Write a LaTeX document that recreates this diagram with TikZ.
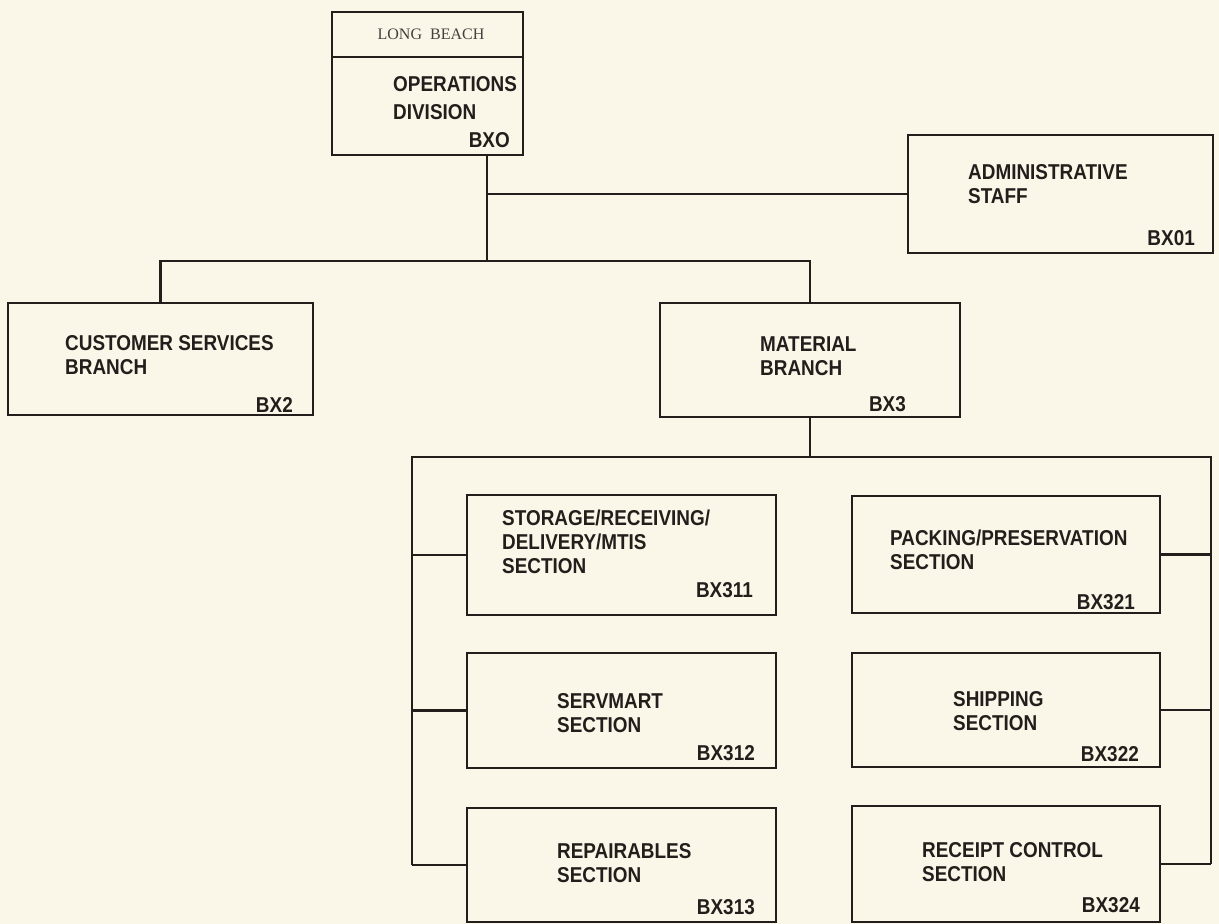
\documentclass[tikz,border=0pt]{standalone}
\usepackage{fontspec}
\setmainfont{Liberation Sans}
\newfontfamily\condsans[FakeStretch=0.88]{Liberation Sans}
\newfontfamily\serifLB{Liberation Serif}
\definecolor{paper}{RGB}{250,247,232}
\definecolor{ink}{RGB}{35,30,28}
\begin{document}
\begin{tikzpicture}[x=1pt,y=-1pt,
  box/.style={draw=ink, line width=2.4pt, inner sep=0pt},
  conn/.style={draw=ink, line width=2.4pt},
  title/.style={anchor=west, align=left, inner sep=0pt, text=ink,
    font=\condsans\fontsize{21.5}{24}\selectfont\bfseries},
  code/.style={anchor=east, inner sep=0pt, text=ink,
    font=\condsans\fontsize{21.5}{24}\selectfont\bfseries}]
\fill[paper] (0,0) rectangle (1219,924);
\useasboundingbox (0,0) rectangle (1219,924);

% boxes
\node[box, minimum width=191pt, minimum height=45pt] (topH) at (427.5,34.5) {};
\node[box, minimum width=191pt, minimum height=98pt] (topB) at (427.5,106) {};
\node[box, minimum width=305pt, minimum height=118pt] (admin) at (1060.5,194) {};
\node[box, minimum width=305pt, minimum height=112pt] (cust) at (160.5,359) {};
\node[box, minimum width=300pt, minimum height=114pt] (mat) at (810,360) {};
\node[box, minimum width=309pt, minimum height=120pt] (s311) at (621.5,555) {};
\node[box, minimum width=309pt, minimum height=115pt] (s312) at (621.5,710.5) {};
\node[box, minimum width=309pt, minimum height=114pt] (s313) at (621.5,865) {};
\node[box, minimum width=308pt, minimum height=117pt] (s321) at (1006,554.5) {};
\node[box, minimum width=308pt, minimum height=114pt] (s322) at (1006,710) {};
\node[box, minimum width=308pt, minimum height=116pt] (s324) at (1006,864) {};

% connectors
\coordinate (bus) at (487,261);
\draw[conn] (bus |- topB.south) -- (bus);
\draw[conn] (bus |- admin.west) -- (admin.west);
\draw[conn] (cust.north) |- (bus) -| (mat.north);
\coordinate (bl) at (412,457);
\coordinate (br) at (1211,457);
\draw[conn] (mat.south) -- (mat.south |- bl);
\draw[conn] (s313.west -| bl) -- (bl) -- (br) -- (br |- s324.east);
\draw[conn] (s311.west) -- (s311.west -| bl);
\draw[conn] (s312.west) -- (s312.west -| bl);
\draw[conn] (s313.west) -- (s313.west -| bl);
\draw[conn] (s321.east) -- (s321.east -| br);
\draw[conn] (s322.east) -- (s322.east -| br);
\draw[conn] (s324.east) -- (s324.east -| br);

% texts
\node[inner sep=0pt, text=ink!85, font=\serifLB\fontsize{16}{18}\selectfont] (tLB) at (431,34) {LONG\ \ BEACH};
\node[title, font=\condsans\fontsize{21.5}{28}\selectfont\bfseries] (tOps) at (393,98) {OPERATIONS\\DIVISION};
\node[code] (cOps) at (510,140) {BXO};
\node[title] (tAdm) at (968,184.5) {ADMINISTRATIVE\\STAFF};
\node[code] (cAdm) at (1195,238) {BX01};
\node[title] (tCus) at (65,355) {CUSTOMER SERVICES\\BRANCH};
\node[code] (cCus) at (293,405) {BX2};
\node[title] (tMat) at (760,356) {MATERIAL\\BRANCH};
\node[code] (cMat) at (906,404) {BX3};
\node[title] (t311) at (502,541.5) {STORAGE/RECEIVING/\\DELIVERY/MTIS\\SECTION};
\node[code] (c311) at (753,590) {BX311};
\node[title] (t312) at (557,713.5) {SERVMART\\SECTION};
\node[code] (c312) at (755,753) {BX312};
\node[title] (t313) at (557,863.5) {REPAIRABLES\\SECTION};
\node[code] (c313) at (755,907) {BX313};
\node[title] (t321) at (890,549.5) {PACKING/PRESERVATION\\SECTION};
\node[code] (c321) at (1135,602) {BX321};
\node[title] (t322) at (953,711.5) {SHIPPING\\SECTION};
\node[code] (c322) at (1139,754) {BX322};
\node[title] (t324) at (922,862) {RECEIPT CONTROL\\SECTION};
\node[code] (c324) at (1140,905) {BX324};
\end{tikzpicture}
\end{document}
